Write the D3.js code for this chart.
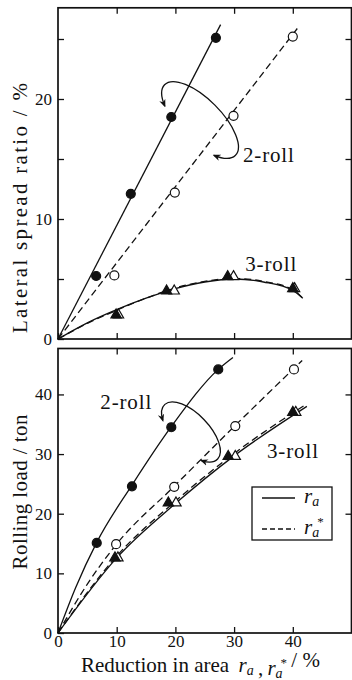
<!DOCTYPE html>
<html>
<head>
<meta charset="utf-8">
<script src="https://cdn.jsdelivr.net/npm/d3@7.9.0/dist/d3.min.js"></script>
<style>
  body { margin: 0; background: #fff; }
  svg { display: block; }
</style>
</head>
<body>
<div id="chart"></div>
<script>
// ---- data ----
const xTickValues = [0, 10, 20, 30, 40];
const spreadTickValues = [0, 5, 10, 15, 20, 25];
const spreadTickLabels = [0, 10, 20];
const loadTickValues = [0, 10, 20, 30, 40];

// lateral spread ratio (%), [reduction in area, value]
const spread2Ra = [[6.5, 5.25], [12.4, 12.1], [19.3, 18.5], [26.9, 25.1]];
const spread2RaStar = [[9.6, 5.3], [19.9, 12.2], [29.9, 18.6], [40.0, 25.2]];
const spread3Ra = [[9.9, 2.0], [18.5, 4.0], [28.9, 5.2], [40.0, 4.2]];
const spread3RaStar = [[10.3, 2.0], [19.8, 4.0], [29.9, 5.2], [40.3, 4.2]];
// fitted curves
const spread2RaFit = [[0, 0], [27.7, 26.2]];
const spread2RaStarFit = [[0, 0], [40.8, 25.9]];
const spread3RaFit = [[0, 0], [5, 1.35], [10, 2.45], [15, 3.4], [20, 4.2], [25, 4.75], [30, 5.0], [35, 4.75], [40, 4.05], [41.7, 3.4]];
const spread3RaStarFit = [[0, 0], [5, 1.3], [10, 2.4], [15, 3.4], [20, 4.25], [25, 4.8], [30, 5.05], [35, 4.8], [40, 4.1], [41.8, 3.35]];

// rolling load (ton)
const load2Ra = [[6.6, 15.1], [12.6, 24.6], [19.3, 34.5], [27.3, 44.2]];
const load2RaStar = [[9.9, 14.9], [19.8, 24.5], [30.2, 34.7], [40.2, 44.2]];
const load3Ra = [[9.7, 12.6], [18.8, 21.8], [29.0, 29.6], [40.0, 37.0]];
const load3RaStar = [[10.2, 12.6], [20.1, 21.8], [30.2, 29.6], [40.5, 37.0]];
const load2RaFit = [[0, 0], [3, 7.6], [6.6, 15.2], [12.6, 24.8], [19.3, 34.6], [27.3, 44.2], [29.8, 46.2]];
const load2RaStarFit = [[0, 0], [5, 8.2], [9.9, 14.8], [19.8, 24.6], [30.2, 34.8], [41.6, 45.7]];
const load3RaFit = [[0, 0], [10, 12.6], [20, 21.7], [30, 29.7], [42.4, 38.0]];
const load3RaStarFit = [[0, 0], [10, 12.9], [20, 22.1], [30, 30.1], [42.2, 38.3]];

// ---- layout ----
const width = 352, height = 680;
const FONT = 'Liberation Serif';
const x = d3.scaleLinear().domain([0, 50]).range([58, 351.5]);
const yTop = d3.scaleLinear().domain([0, 27.6]).range([339, 7.8]);
const yBot = d3.scaleLinear().domain([0, 47.7]).range([633, 348.5]);

const svg = d3.select('#chart').append('svg')
  .attr('width', width)
  .attr('height', height)
  .attr('font-family', FONT);

const defs = svg.append('defs');
defs.append('marker')
  .attr('id', 'arrow')
  .attr('viewBox', '0 0 10 10')
  .attr('refX', 8).attr('refY', 5)
  .attr('markerWidth', 8).attr('markerHeight', 8)
  .attr('markerUnits', 'userSpaceOnUse')
  .attr('orient', 'auto-start-reverse')
  .append('path')
  .attr('d', 'M0,1 L10,5 L0,9 L3,5 Z')
  .attr('fill', '#111');

function drawPanel(y, leftTicks, leftLabels, rightTicks, showXLabels) {
  const g = svg.append('g');
  const [y0, y1] = y.range();

  // inward ticks on four sides
  g.append('g')
    .attr('transform', `translate(0,${y0})`)
    .call(d3.axisBottom(x).tickValues(xTickValues)
      .tickSizeInner(-6).tickSizeOuter(0).tickPadding(2)
      .tickFormat(d => showXLabels ? d : ''));
  g.append('g')
    .attr('transform', `translate(0,${y1})`)
    .call(d3.axisTop(x).tickValues(xTickValues.slice(1)).tickSizeInner(-6).tickSizeOuter(0).tickFormat(''));
  g.append('g')
    .attr('transform', `translate(${x.range()[0]},0)`)
    .call(d3.axisLeft(y).tickValues(leftTicks)
      .tickSizeInner(-6).tickSizeOuter(0).tickPadding(6)
      .tickFormat(d => leftLabels.includes(d) ? d : ''));
  g.append('g')
    .attr('transform', `translate(${x.range()[1]},0)`)
    .call(d3.axisRight(y).tickValues(rightTicks).tickSizeInner(-6).tickSizeOuter(0).tickFormat(''));

  g.selectAll('.domain').remove();
  g.selectAll('g').attr('font-family', FONT).attr('font-size', 17);
  g.selectAll('.tick line').attr('stroke', '#111').attr('stroke-width', 1.3);
  g.selectAll('.tick text').attr('fill', '#111');

  // frame
  svg.append('rect')
    .attr('x', x.range()[0])
    .attr('y', y1)
    .attr('width', x.range()[1] - x.range()[0])
    .attr('height', y0 - y1)
    .attr('fill', 'none')
    .attr('stroke', '#111')
    .attr('stroke-width', 1.7);
}

drawPanel(yTop, spreadTickValues, spreadTickLabels, spreadTickValues.slice(1), false);
drawPanel(yBot, loadTickValues, loadTickValues, [20, 30, 40], true);

function drawLine(y, pts, dashed, curve) {
  const line = d3.line()
    .x(d => x(d[0]))
    .y(d => y(d[1]))
    .curve(curve || d3.curveLinear);
  svg.append('path')
    .datum(pts)
    .attr('d', line)
    .attr('fill', 'none')
    .attr('stroke', '#111')
    .attr('stroke-width', 1.3)
    .attr('stroke-dasharray', dashed ? '7,4' : null);
}

function drawCircles(y, pts, filled) {
  svg.append('g').selectAll('circle')
    .data(pts)
    .join('circle')
    .attr('cx', d => x(d[0]))
    .attr('cy', d => y(d[1]))
    .attr('r', 4.5)
    .attr('fill', filled ? '#111' : '#fff')
    .attr('stroke', '#111')
    .attr('stroke-width', 1.2);
}

function drawTriangles(y, pts, filled) {
  const tri = d3.symbol().type(d3.symbolTriangle).size(46);
  svg.append('g').selectAll('path')
    .data(pts)
    .join('path')
    .attr('transform', d => `translate(${x(d[0])},${y(d[1])})`)
    .attr('d', tri)
    .attr('fill', filled ? '#111' : '#fff')
    .attr('stroke', '#111')
    .attr('stroke-width', 1.2);
}

// top panel: lateral spread
drawLine(yTop, spread2RaFit, false);
drawLine(yTop, spread2RaStarFit, true);
drawLine(yTop, spread3RaFit, false, d3.curveMonotoneX);
drawLine(yTop, spread3RaStarFit, true, d3.curveMonotoneX);
drawCircles(yTop, spread2Ra, true);
drawCircles(yTop, spread2RaStar, false);
drawTriangles(yTop, spread3RaStar, false);
drawTriangles(yTop, spread3Ra, true);

// bottom panel: rolling load
drawLine(yBot, load2RaFit, false, d3.curveMonotoneX);
drawLine(yBot, load2RaStarFit, true, d3.curveMonotoneX);
drawLine(yBot, load3RaFit, false, d3.curveMonotoneX);
drawLine(yBot, load3RaStarFit, true, d3.curveMonotoneX);
drawCircles(yBot, load2Ra, true);
drawCircles(yBot, load2RaStar, false);
drawTriangles(yBot, load3RaStar, false);
drawTriangles(yBot, load3Ra, true);

// curved arrows linking ra and ra* for 2-roll (center in data units, radii in px)
const loops = [
  { y: yTop, cx: 24.2, cy: 18.25, a: 50, b: 21, angle: 45, gap: 0.8 },
  { y: yBot, cx: 22.65, cy: 33.7, a: 38, b: 18, angle: 46, gap: 0.75 }
];
loops.forEach(l => {
  const cx = x(l.cx), cy = l.y(l.cy);
  const th = l.angle * Math.PI / 180;
  const u = [Math.cos(th), Math.sin(th)];
  const v = [Math.sin(th), -Math.cos(th)];
  const pt = t => [
    cx + l.a * Math.cos(t) * u[0] + l.b * Math.sin(t) * v[0],
    cy + l.a * Math.cos(t) * u[1] + l.b * Math.sin(t) * v[1]
  ];
  const s = pt(Math.PI + l.gap), e = pt(-l.gap);
  svg.append('path')
    .attr('d', `M${s[0]},${s[1]} A${l.a},${l.b} ${l.angle} 1 1 ${e[0]},${e[1]}`)
    .attr('fill', 'none')
    .attr('stroke', '#111')
    .attr('stroke-width', 1.3)
    .attr('marker-start', 'url(#arrow)')
    .attr('marker-end', 'url(#arrow)');
});

// series labels
const seriesLabels = [
  { y: yTop, px: 31.5, py: 14.75, text: '2-roll' },
  { y: yTop, px: 31.9, py: 5.67, text: '3-roll' },
  { y: yBot, px: 7.2, py: 37.5, text: '2-roll' },
  { y: yBot, px: 35.6, py: 29.3, text: '3-roll' }
];
svg.append('g').selectAll('text')
  .data(seriesLabels)
  .join('text')
  .attr('x', d => x(d.px))
  .attr('y', d => d.y(d.py))
  .attr('fill', '#111')
  .attr('font-family', FONT)
  .attr('font-size', 21)
  .attr('textLength', 51)
  .attr('lengthAdjust', 'spacing')
  .text(d => d.text);

// axis titles
svg.append('text')
  .attr('transform', 'translate(27,208) rotate(-90)')
  .attr('text-anchor', 'middle')
  .attr('fill', '#111')
  .attr('font-family', FONT)
  .attr('font-size', 21)
  .attr('textLength', 250)
  .attr('lengthAdjust', 'spacing')
  .text('Lateral spread ratio / %');
svg.append('text')
  .attr('transform', 'translate(27,492) rotate(-90)')
  .attr('text-anchor', 'middle')
  .attr('fill', '#111')
  .attr('font-family', FONT)
  .attr('font-size', 21)
  .attr('textLength', 155)
  .attr('lengthAdjust', 'spacing')
  .text('Rolling load / ton');

function symbolText(sel, star) {
  sel.append('tspan').attr('font-style', 'italic').text('r');
  sel.append('tspan').attr('dy', 3).attr('font-style', 'italic').attr('font-size', 14).text('a');
  if (star) {
    sel.append('tspan').attr('dx', -2).attr('dy', -11).attr('font-size', 13).text('*');
    sel.append('tspan').attr('dy', 8).text('');
  } else {
    sel.append('tspan').attr('dy', -3).text('');
  }
}

const xTitle = svg.append('text')
  .attr('x', 81)
  .attr('y', 672)
  .attr('fill', '#111')
  .attr('font-family', FONT)
  .attr('font-size', 21);
xTitle.append('tspan').text('Reduction in area\u00a0\u2009');
symbolText(xTitle, false);
xTitle.append('tspan').text('\u2009,\u2009');
symbolText(xTitle, true);
xTitle.append('tspan').text('\u2009/ %');

// legend
const legend = svg.append('g');
legend.append('rect')
  .attr('x', 252).attr('y', 487)
  .attr('width', 80).attr('height', 53)
  .attr('fill', '#fff')
  .attr('stroke', '#111')
  .attr('stroke-width', 1.3);
[{ yy: 498, dashed: false }, { yy: 529, dashed: true }].forEach(d => {
  legend.append('line')
    .attr('x1', 262).attr('x2', 295)
    .attr('y1', d.yy).attr('y2', d.yy)
    .attr('stroke', '#111')
    .attr('stroke-width', 1.3)
    .attr('stroke-dasharray', d.dashed ? '5,3' : null);
  const t = legend.append('text')
    .attr('x', 304)
    .attr('y', d.yy + 5)
    .attr('fill', '#111')
    .attr('font-family', FONT)
    .attr('font-size', 21);
  symbolText(t, d.dashed);
});
</script>
</body>
</html>
